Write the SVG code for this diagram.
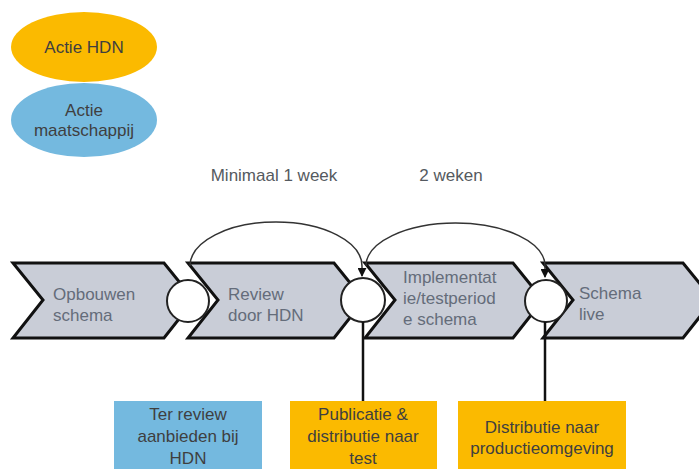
<svg xmlns="http://www.w3.org/2000/svg" width="699" height="469" viewBox="0 0 699 469">
<style>
text{font-family:"Liberation Sans",Arial,sans-serif;font-size:17px}
.dark{fill:#3f3f3f}
.lbl{fill:#555a60}
.chv{fill:#c9cdd7;stroke:#111;stroke-width:3;stroke-linejoin:miter}
.chvt{fill:#646c7a}
.circ{fill:#fff;stroke:#222;stroke-width:2}
.arc{fill:none;stroke:#333;stroke-width:1.5}
.vline{stroke:#111;stroke-width:2.5}
.mid{text-anchor:middle}
</style>
<defs>
<marker id="ah" viewBox="0 0 10 10" refX="9" refY="5" markerWidth="9" markerHeight="9" markerUnits="userSpaceOnUse" orient="auto">
<path d="M0,0 L10,5 L0,10 z" fill="#111"/>
</marker>
</defs>
<rect width="699" height="469" fill="#fff"/>
<g id="legend-hdn">
<ellipse cx="84" cy="47" rx="73" ry="35" fill="#fbba00"/>
<text x="84" y="53" class="mid dark">Actie HDN</text>
</g>
<g id="legend-maatschappij">
<ellipse cx="84" cy="120" rx="73" ry="37" fill="#74b9df"/>
<text x="84" y="116" class="mid dark">Actie</text>
<text x="84" y="136" class="mid dark">maatschappij</text>
</g>
<g id="label-week">
<text x="274" y="181" class="mid lbl">Minimaal 1 week</text>
</g>
<g id="label-weken">
<text x="451" y="181" class="mid lbl">2 weken</text>
</g>
<g id="step-opbouwen">
<polygon class="chv" points="13,263 164,263 194,300 164,338 13,338 43,300"/>
<text x="53" y="300" class="chvt">Opbouwen</text>
<text x="53" y="321" class="chvt">schema</text>
</g>
<g id="step-review">
<polygon class="chv" points="188,263 334,263 364,300 334,338 188,338 218,300"/>
<text x="228" y="300" class="chvt">Review</text>
<text x="228" y="321" class="chvt">door HDN</text>
</g>
<g id="step-implementatie">
<polygon class="chv" points="365,263 513,263 543,300 513,338 365,338 395,300"/>
<text x="403" y="283" class="chvt">Implementat</text>
<text x="403" y="304" class="chvt">ie/testperiod</text>
<text x="403" y="325" class="chvt">e schema</text>
</g>
<g id="step-live">
<polygon class="chv" points="543,263 683,263 713,300 683,338 543,338 573,300"/>
<text x="579" y="299" class="chvt">Schema</text>
<text x="579" y="320" class="chvt">live</text>
</g>
<g id="milestone-1"><circle class="circ" cx="188" cy="301" r="21"/></g>
<g id="milestone-2"><circle class="circ" cx="363" cy="300" r="22"/></g>
<g id="milestone-3"><circle class="circ" cx="546" cy="301" r="21"/></g>
<g id="connectors">
<path class="arc" d="M190,266 A86,44 0 0 1 362,266 L362,276" marker-end="url(#ah)"/>
<path class="arc" d="M366,266 A89.5,43 0 0 1 545,266 L545,277" marker-end="url(#ah)"/>
<line class="vline" x1="363" y1="322" x2="363" y2="401"/>
<line class="vline" x1="545" y1="322" x2="545" y2="401"/>
</g>
<g id="box-review">
<rect x="114" y="401" width="148" height="70" fill="#74b9df"/>
<text x="188" y="420" class="mid dark">Ter review</text>
<text x="188" y="442" class="mid dark">aanbieden bij</text>
<text x="188" y="464" class="mid dark">HDN</text>
</g>
<g id="box-publicatie">
<rect x="290" y="401" width="147" height="70" fill="#fbba00"/>
<text x="363" y="420" class="mid dark">Publicatie &amp;</text>
<text x="363" y="442" class="mid dark">distributie naar</text>
<text x="363" y="464" class="mid dark">test</text>
</g>
<g id="box-distributie">
<rect x="458" y="401" width="168" height="70" fill="#fbba00"/>
<text x="542" y="433" class="mid dark">Distributie naar</text>
<text x="542" y="454" class="mid dark">productieomgeving</text>
</g>
</svg>
